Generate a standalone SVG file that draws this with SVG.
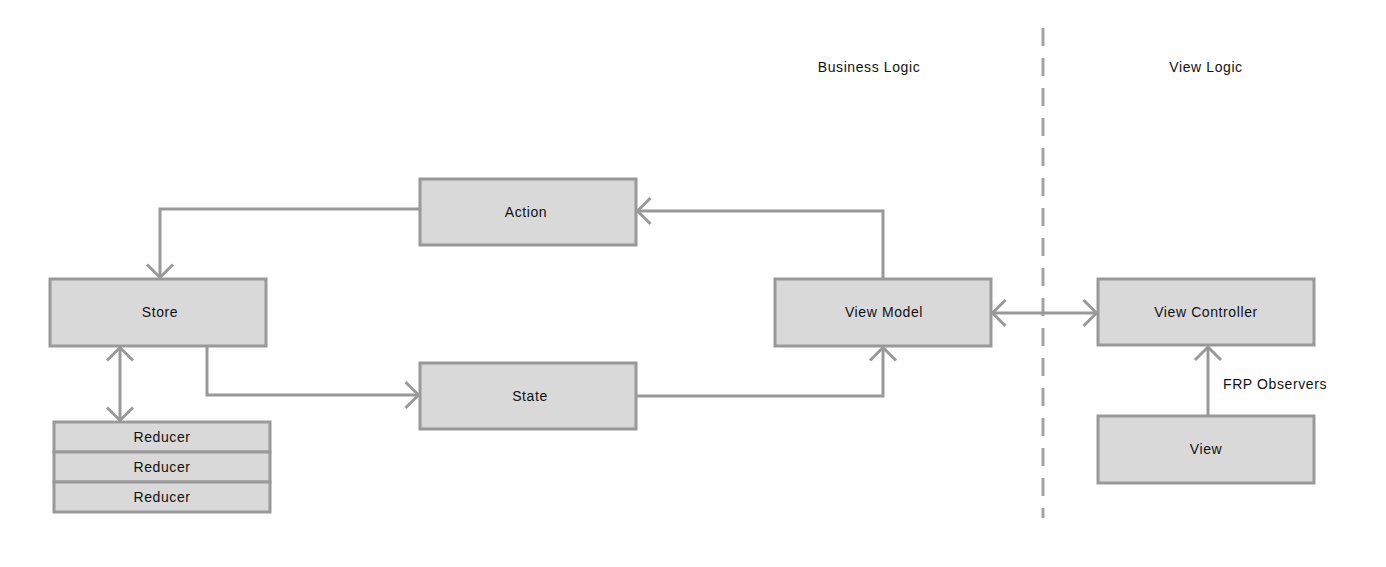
<svg xmlns="http://www.w3.org/2000/svg" width="1386" height="567" viewBox="0 0 1386 567">
<style>
.box{fill:#d9d9d9;stroke:#999;stroke-width:3}
.lbl{font-family:"Liberation Sans",Arial,sans-serif;font-size:14px;letter-spacing:0.6px;fill:#111;text-anchor:middle}
.plain{font-family:"Liberation Sans",Arial,sans-serif;font-size:14px;letter-spacing:0.6px;fill:#111}
.conn{fill:none;stroke:#999;stroke-width:3}
</style>
<defs>
<marker id="arr" markerUnits="userSpaceOnUse" markerWidth="32" markerHeight="32" viewBox="-16 -16 32 32" refX="0" refY="0" orient="auto-start-reverse">
<path d="M-13,-13 L0,0 L-13,13" fill="none" stroke="#999" stroke-width="3"/>
</marker>
</defs>
<rect width="1386" height="567" fill="#fff"/>
<line x1="1043" y1="28" x2="1043" y2="518" stroke="#a3a3a3" stroke-width="3" stroke-dasharray="18 12"/>
<text class="lbl" x="869" y="72">Business Logic</text>
<text class="lbl" x="1206" y="72">View Logic</text>
<g id="connectors">
<path class="conn" d="M420,209 H160 V277.5" marker-end="url(#arr)"/>
<path class="conn" d="M207,346 V395 H418.5" marker-end="url(#arr)"/>
<path class="conn" d="M636,396 H883 V347.5" marker-end="url(#arr)"/>
<path class="conn" d="M883,279 V211 H637.5" marker-end="url(#arr)"/>
<path class="conn" d="M992.5,313 H1096.5" marker-start="url(#arr)" marker-end="url(#arr)"/>
<path class="conn" d="M1208,416 V347" marker-end="url(#arr)"/>
<path class="conn" d="M120,347.5 V420.5" marker-start="url(#arr)" marker-end="url(#arr)"/>
<text class="plain" x="1223" y="389">FRP Observers</text>
</g>
<g id="action"><rect class="box" x="420" y="179" width="216" height="66"/><text class="lbl" x="526" y="217">Action</text></g>
<g id="store"><rect class="box" x="50" y="279" width="216" height="67"/><text class="lbl" x="160" y="317">Store</text></g>
<g id="state"><rect class="box" x="420" y="363" width="216" height="66"/><text class="lbl" x="530" y="401">State</text></g>
<g id="viewmodel"><rect class="box" x="775" y="279" width="216" height="67"/><text class="lbl" x="884" y="317">View Model</text></g>
<g id="viewcontroller"><rect class="box" x="1098" y="279" width="216" height="66"/><text class="lbl" x="1206" y="317">View Controller</text></g>
<g id="view"><rect class="box" x="1098" y="416" width="216" height="67"/><text class="lbl" x="1206" y="454">View</text></g>
<g id="reducer1"><rect class="box" x="54" y="422" width="216" height="30"/><text class="lbl" x="162" y="442">Reducer</text></g>
<g id="reducer2"><rect class="box" x="54" y="452" width="216" height="30"/><text class="lbl" x="162" y="472">Reducer</text></g>
<g id="reducer3"><rect class="box" x="54" y="482" width="216" height="30"/><text class="lbl" x="162" y="502">Reducer</text></g>
</svg>
